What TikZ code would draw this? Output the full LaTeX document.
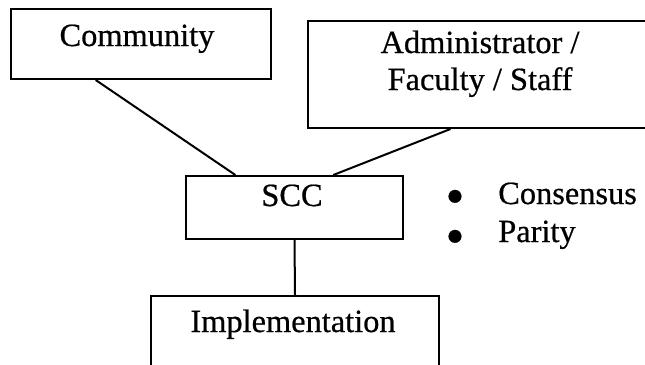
\documentclass[tikz,border=0pt]{standalone}
\usepackage{fontspec}
\setmainfont{Liberation Serif}[FakeBold=0.6]
\usetikzlibrary{calc}
\begin{document}
\begin{tikzpicture}[x=0.75pt,y=-0.75pt,
  box/.style={draw=black,line width=1.5pt,rectangle,inner sep=0pt,anchor=north west},
  lbl/.style={inner sep=0pt,anchor=base,font=\fontsize{24.3}{28}\selectfont},
  dot/.style={inner sep=0pt,anchor=base,font=\fontsize{40}{44}\selectfont},
  link/.style={draw=black,line width=1.5pt}]
\useasboundingbox (0,0) rectangle (645,364);
\clip (0,0) rectangle (645,364);

% boxes
\node[box,minimum width=260*0.75pt,minimum height=70*0.75pt] (comm) at (10,8) {};
\node[box,minimum width=348*0.75pt,minimum height=107*0.75pt] (adm) at (307,20) {};
\node[box,minimum width=217*0.75pt,minimum height=63*0.75pt] (scc) at (185,175) {};
\node[box,minimum width=288*0.75pt,minimum height=100*0.75pt] (impl) at (150,295) {};

% box texts
\node[lbl] (commtxt) at (137,46) {Community};
\node[lbl] (admtxta) at (480,53) {Administrator /};
\node[lbl] (admtxtb) at (480,90) {Faculty / Staff};
\node[lbl] (scctxt) at (292,206) {SCC};
\node[lbl] (impltxt) at (293,332) {Implementation};

% bullet list
\node[dot] (bula) at (455,214) {\smash{\textbullet}};
\node[dot] (bulb) at (455,254) {\smash{\textbullet}};
\node[lbl,anchor=base west] (itema) at (498,204) {Consensus};
\node[lbl,anchor=base west] (itemb) at (498,242) {Parity};

% connectors
\draw[link] ($(comm.south west)!0.327!(comm.south east)$) -- ($(scc.north west)!0.23!(scc.north east)$);
\draw[link] ($(adm.south west)!0.41!(adm.south east)$) -- ($(scc.north west)!0.677!(scc.north east)$);
\draw[link] (scc.south) -- (impl.north);
\end{tikzpicture}
\end{document}
